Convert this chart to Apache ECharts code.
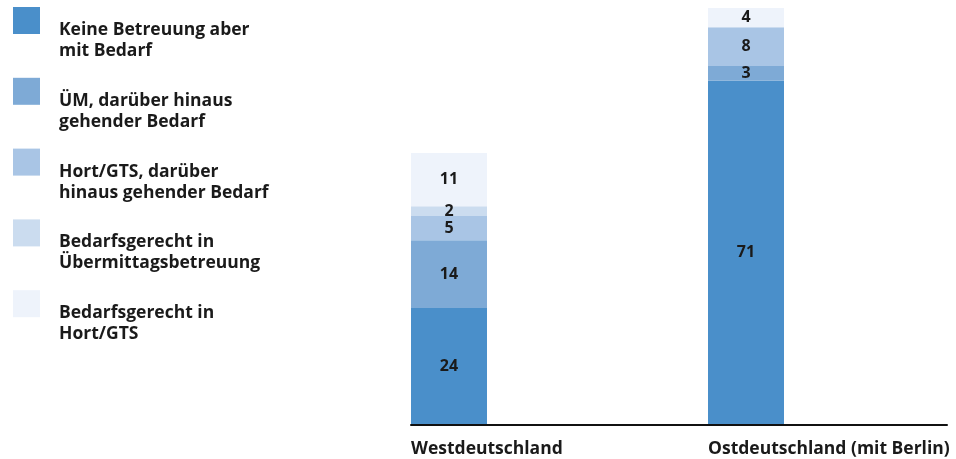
<!DOCTYPE html>
<html>
<head>
<meta charset="utf-8">
<script src="https://cdn.jsdelivr.net/npm/echarts@6/dist/echarts.min.js"></script>
<style>
  html, body { margin: 0; padding: 0; background: #ffffff; }
  #chart { width: 956px; height: 459px; }
</style>
</head>
<body>
<div id="chart"></div>
<script>
// Regions on the x axis
const categories = ['Westdeutschland', 'Ostdeutschland (mit Berlin)'];

// Shares in percent, stacked from the bottom up
const keineBetreuung = [24, 71];
const uemBedarf = [14, 3];
const hortBedarf = [5, 8];
const gerechtUem = [2, 0];
const gerechtHort = [11, 4];

const seriesNames = [
  'Keine Betreuung aber mit Bedarf',
  'ÜM, darüber hinaus gehender Bedarf',
  'Hort/GTS, darüber hinaus gehender Bedarf',
  'Bedarfsgerecht in Übermittagsbetreuung',
  'Bedarfsgerecht in Hort/GTS'
];
// Two-line legend wording
const legendLines = {
  'Keine Betreuung aber mit Bedarf': ['Keine Betreuung aber', 'mit Bedarf'],
  'ÜM, darüber hinaus gehender Bedarf': ['ÜM, darüber hinaus', 'gehender Bedarf'],
  'Hort/GTS, darüber hinaus gehender Bedarf': ['Hort/GTS, darüber', 'hinaus gehender Bedarf'],
  'Bedarfsgerecht in Übermittagsbetreuung': ['Bedarfsgerecht in', 'Übermittagsbetreuung'],
  'Bedarfsgerecht in Hort/GTS': ['Bedarfsgerecht in', 'Hort/GTS']
};

const seriesValues = [keineBetreuung, uemBedarf, hortBedarf, gerechtUem, gerechtHort];
const colors = ['#4a8fca', '#7eaad6', '#a9c5e5', '#cbdcef', '#eef3fb'];

const FONT = '"Open Sans", "Noto Sans", sans-serif';
const TEXT = '#1a1a1a';
const BAR_W = 76;

const chart = echarts.init(document.getElementById('chart'), null, { renderer: 'canvas' });

const series = seriesValues.map((vals, i) => ({
  name: seriesNames[i],
  type: 'bar',
  stack: 'total',
  xAxisIndex: 0,
  yAxisIndex: 0,
  barWidth: BAR_W,
  data: vals,
  itemStyle: { color: colors[i] },
  label: {
    show: true,
    position: 'inside',
    color: TEXT,
    fontFamily: FONT,
    fontWeight: 'bold',
    fontSize: 16,
    formatter: p => (p.value === 0 ? '' : String(p.value))
  },
  emphasis: { disabled: true }
}));

const legendText = {
  fontFamily: FONT,
  fontWeight: 'bold',
  fontSize: 17.5,
  color: TEXT
};

chart.setOption({
  animation: false,
  backgroundColor: '#ffffff',
  color: colors,
  legend: {
    orient: 'vertical',
    left: 8,
    top: -25.5,
    itemWidth: 27,
    itemHeight: 27,
    itemGap: -9.7,
    icon: 'rect',
    selectedMode: false,
    data: seriesNames,
    // a blank spacer line pushes the two text lines below the swatch
    formatter: name => '{s| }\n{t|' + legendLines[name][0] + '}\n{t|' + legendLines[name][1] + '}',
    textStyle: {
      color: TEXT,
      padding: [0, 0, 0, 14],
      rich: {
        s: { fontSize: 10, lineHeight: 40, height: 40 },
        t: Object.assign({ lineHeight: 21 }, legendText)
      }
    }
  },
  grid: [
    { left: 300.5, right: 61.5, top: 8, bottom: 35 },
    { left: 411, right: 9, top: 8, bottom: 34 }
  ],
  xAxis: [
    {
      type: 'category',
      gridIndex: 0,
      data: categories,
      axisLine: { show: false },
      axisTick: { show: false },
      axisLabel: { show: false }
    },
    {
      type: 'category',
      gridIndex: 1,
      data: [],
      axisLine: { show: true, lineStyle: { color: '#111111', width: 2 } },
      axisTick: { show: false },
      axisLabel: { show: false }
    }
  ],
  yAxis: [
    { type: 'value', gridIndex: 0, min: 0, max: 86, show: false },
    { type: 'value', gridIndex: 1, min: 0, max: 1, show: false }
  ],
  series: series
});

// Category names sit below the axis, left-aligned with each bar
chart.setOption({
  graphic: categories.map(cat => {
    const cx = chart.convertToPixel({ xAxisIndex: 0 }, cat);
    return {
      type: 'text',
      x: cx - BAR_W / 2,
      y: 449,
      style: {
        text: cat,
        fill: TEXT,
        font: 'bold 17.5px ' + FONT,
        textAlign: 'left',
        textVerticalAlign: 'middle'
      },
      silent: true
    };
  })
});
</script>
</body>
</html>
